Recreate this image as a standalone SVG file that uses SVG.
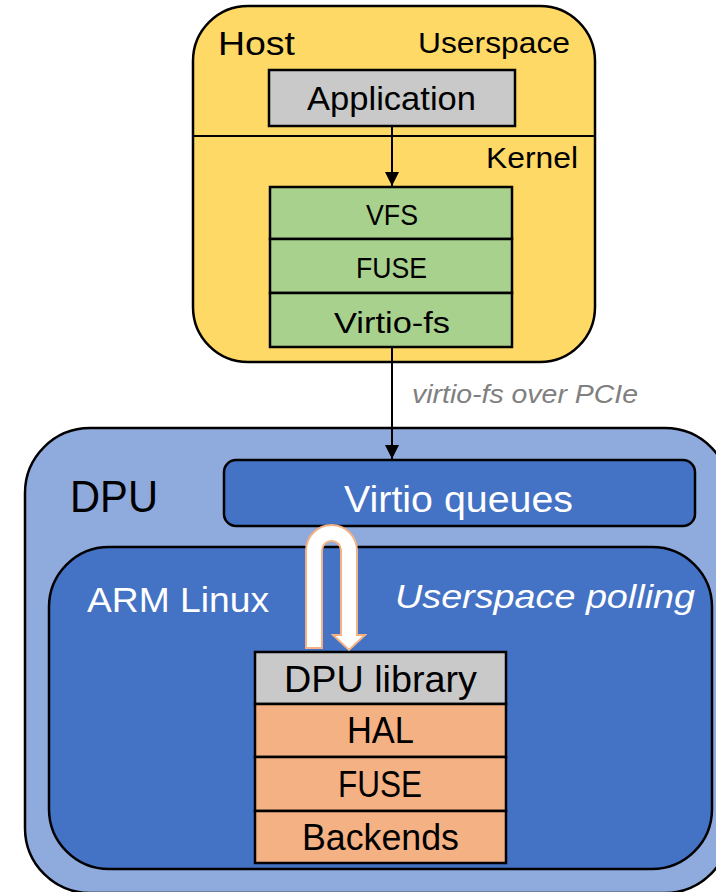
<svg xmlns="http://www.w3.org/2000/svg" width="716" height="892" viewBox="0 0 716 892">
  <style>
    .t { font-family: "Liberation Sans", Arial, sans-serif; fill: #000; }
    .w { fill: #fff; }
    .c { text-anchor: middle; }
    .e { text-anchor: end; }
    .i { font-style: italic; }
    .box { stroke: #000; stroke-width: 2.5; }
    .conn { stroke: #000; stroke-width: 2; fill: none; }
  </style>
  <defs>
    <marker id="ah" markerWidth="14" markerHeight="16" refX="14" refY="7" orient="auto" markerUnits="userSpaceOnUse">
      <path d="M0,0 L14,7 L0,14 Z" fill="#000"/>
    </marker>
  </defs>
  <rect width="716" height="892" fill="#fff"/>

  <g id="host">
    <rect class="box" x="193" y="6" width="402" height="356" rx="55" ry="55" fill="#ffd966"/>
    <line x1="193" y1="136" x2="595" y2="136" stroke="#000" stroke-width="2"/>
    <text class="t" x="218" y="55" font-size="34" textLength="77" lengthAdjust="spacingAndGlyphs">Host</text>
    <text class="t" x="418" y="53" font-size="30" textLength="152" lengthAdjust="spacingAndGlyphs">Userspace</text>
    <text class="t" x="486" y="168" font-size="30" textLength="92" lengthAdjust="spacingAndGlyphs">Kernel</text>
  </g>

  <g id="application">
    <rect class="box" x="269" y="70" width="246" height="56" fill="#c9c9c9"/>
    <text class="t" x="307" y="110" font-size="34" textLength="169" lengthAdjust="spacingAndGlyphs">Application</text>
  </g>

  <g id="vfs">
    <rect class="box" x="270" y="187" width="242" height="52" fill="#a9d18e"/>
    <text class="t" x="366" y="225" font-size="30" textLength="52" lengthAdjust="spacingAndGlyphs">VFS</text>
  </g>
  <g id="host-fuse">
    <rect class="box" x="270" y="239" width="242" height="54" fill="#a9d18e"/>
    <text class="t" x="356" y="278" font-size="30" textLength="71" lengthAdjust="spacingAndGlyphs">FUSE</text>
  </g>
  <g id="virtio-fs">
    <rect class="box" x="270" y="293" width="242" height="54" fill="#a9d18e"/>
    <text class="t" x="334" y="333" font-size="30" textLength="116" lengthAdjust="spacingAndGlyphs">Virtio-fs</text>
  </g>

  <text class="t i" x="412" y="403" font-size="25" textLength="226" lengthAdjust="spacingAndGlyphs" style="fill:#808080">virtio-fs over PCIe</text>

  <g id="dpu">
    <rect class="box" x="25" y="428" width="705" height="465" rx="65" ry="65" fill="#8faadc"/>
    <text class="t" x="70" y="512" font-size="45" textLength="88" lengthAdjust="spacingAndGlyphs">DPU</text>
  </g>

  <g id="virtio-queues">
    <rect class="box" x="224" y="460" width="471" height="66" rx="12" ry="12" fill="#4472c4"/>
    <text class="t w" x="344" y="512" font-size="36" textLength="229" lengthAdjust="spacingAndGlyphs">Virtio queues</text>
  </g>

  <g id="arm-linux">
    <rect class="box" x="49" y="547" width="663" height="322" rx="60" ry="60" fill="#4472c4"/>
    <text class="t w" x="87" y="612" font-size="35" textLength="182" lengthAdjust="spacingAndGlyphs">ARM Linux</text>
    <text class="t w i" x="395" y="608" font-size="34" textLength="300" lengthAdjust="spacingAndGlyphs">Userspace polling</text>
  </g>

  <g id="dpu-library">
    <rect class="box" x="255" y="652" width="251" height="52" fill="#c9c9c9"/>
    <text class="t" x="284" y="692" font-size="36" textLength="193" lengthAdjust="spacingAndGlyphs">DPU library</text>
  </g>
  <g id="hal">
    <rect class="box" x="255" y="704" width="251" height="53" fill="#f4b183"/>
    <text class="t" x="347" y="743" font-size="36" textLength="67" lengthAdjust="spacingAndGlyphs">HAL</text>
  </g>
  <g id="dpu-fuse">
    <rect class="box" x="255" y="757" width="251" height="54" fill="#f4b183"/>
    <text class="t" x="338" y="797" font-size="36" textLength="84" lengthAdjust="spacingAndGlyphs">FUSE</text>
  </g>
  <g id="backends">
    <rect class="box" x="255" y="811" width="251" height="52" fill="#f4b183"/>
    <text class="t" x="302" y="850" font-size="36" textLength="157" lengthAdjust="spacingAndGlyphs">Backends</text>
  </g>

  <g id="connectors">
    <line class="conn" x1="392" y1="126" x2="392" y2="186" marker-end="url(#ah)"/>
    <line class="conn" x1="392" y1="347" x2="392" y2="459" marker-end="url(#ah)"/>
    <path d="M306,648 L306,550.5 A25.5,25.5 0 0 1 357,550.5 L357,635 L365,635 L349,650 L333,635 L341,635 L341,550.5 A9.5,9.5 0 0 0 322,550.5 L322,648 Z" fill="#fff" stroke="#f4b183" stroke-width="2" stroke-linejoin="miter"/>
  </g>
</svg>
